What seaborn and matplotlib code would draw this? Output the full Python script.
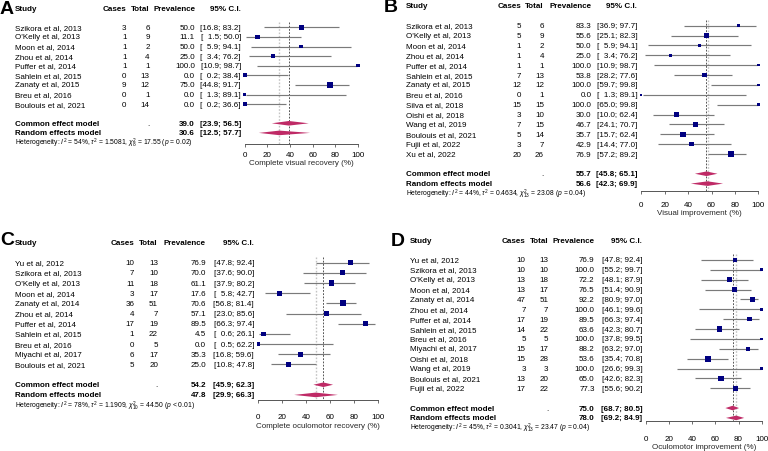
import matplotlib
matplotlib.use("Agg")
import matplotlib.pyplot as plt
import seaborn as sns
import pandas as pd

# ---------------- DATA ----------------
studies_A = ["Szikora et al, 2013", "O'Kelly et al, 2013", "Moon et al, 2014", "Zhou et al, 2014",
             "Puffer et al, 2014", "Sahlein et al, 2015", "Zanaty et al, 2015", "Breu et al, 2016",
             "Boulouis et al, 2021"]
cases_A = [3, 1, 1, 1, 1, 0, 9, 0, 0]
total_A = [6, 9, 2, 4, 1, 13, 12, 1, 14]
prev_A = [50.0, 11.1, 50.0, 25.0, 100.0, 0.0, 75.0, 0.0, 0.0]
lo_A = [16.8, 1.5, 5.9, 3.4, 10.9, 0.2, 44.8, 1.3, 0.2]
hi_A = [83.2, 50.0, 94.1, 76.2, 98.7, 38.4, 91.7, 89.1, 36.6]
weight_A = [16.8, 12.2, 8.3, 12.2, 5.6, 8.3, 21.4, 6.9, 8.3]
common_A = [39.0, 23.9, 56.5]
random_A = [30.6, 12.5, 57.7]
het_A = r"Heterogeneity: $I^2$ = 54%, $\tau^2$ = 1.5081, $\chi^2_8$ = 17.55 ($p$ = 0.02)"
xlabel_A = "Complete visual recovery (%)"

studies_B = ["Szikora et al, 2013", "O'Kelly et al, 2013", "Moon et al, 2014", "Zhou et al, 2014",
             "Puffer et al, 2014", "Sahlein et al, 2015", "Zanaty et al, 2015", "Breu et al, 2016",
             "Silva et al, 2018", "Oishi et al, 2018", "Wang et al, 2019", "Boulouis et al, 2021",
             "Fujii et al, 2022", "Xu et al, 2022"]
cases_B = [5, 5, 1, 1, 1, 7, 12, 0, 15, 3, 7, 5, 3, 20]
total_B = [6, 9, 2, 4, 1, 13, 12, 1, 15, 10, 15, 14, 7, 26]
prev_B = [83.3, 55.6, 50.0, 25.0, 100.0, 53.8, 100.0, 0.0, 100.0, 30.0, 46.7, 35.7, 42.9, 76.9]
lo_B = [36.9, 25.1, 5.9, 3.4, 10.9, 28.2, 59.7, 1.3, 65.0, 10.0, 24.1, 15.7, 14.4, 57.2]
hi_B = [97.7, 82.3, 94.1, 76.2, 98.7, 77.6, 99.8, 89.1, 99.8, 62.4, 70.7, 62.4, 77.0, 89.2]
weight_B = [5.0, 10.2, 3.4, 4.1, 2.4, 10.2, 2.4, 1.8, 2.4, 8.5, 11.5, 12.9, 8.5, 16.6]
common_B = [55.7, 45.8, 65.1]
random_B = [56.6, 42.3, 69.9]
het_B = r"Heterogeneity: $I^2$ = 44%, $\tau^2$ = 0.4634, $\chi^2_{13}$ = 23.08 ($p$ = 0.04)"
xlabel_B = "Visual improvement (%)"

studies_C = ["Yu et al, 2012", "Szikora et al, 2013", "O'Kelly et al, 2013", "Moon et al, 2014",
             "Zanaty et al, 2014", "Zhou et al, 2014", "Puffer et al, 2014", "Sahlein et al, 2015",
             "Breu et al, 2016", "Miyachi et al, 2017", "Boulouis et al, 2021"]
cases_C = [10, 7, 11, 3, 36, 4, 17, 1, 0, 6, 5]
total_C = [13, 10, 18, 17, 51, 7, 19, 22, 5, 17, 20]
prev_C = [76.9, 70.0, 61.1, 17.6, 70.6, 57.1, 89.5, 4.5, 0.0, 35.3, 25.0]
lo_C = [47.8, 37.6, 37.9, 5.8, 56.8, 23.0, 66.3, 0.6, 0.5, 16.8, 10.8]
hi_C = [92.4, 90.0, 80.2, 42.7, 81.4, 85.6, 97.4, 26.1, 62.2, 59.6, 47.8]
weight_C = [9.1, 9.0, 10.6, 10.1, 12.6, 8.2, 8.8, 6.8, 4.0, 10.4, 10.4]
common_C = [54.2, 45.9, 62.3]
random_C = [47.8, 29.9, 66.3]
het_C = r"Heterogeneity: $I^2$ = 78%, $\tau^2$ = 1.1909, $\chi^2_{10}$ = 44.50 ($p$ < 0.01)"
xlabel_C = "Complete oculomotor recovery (%)"

studies_D = ["Yu et al, 2012", "Szikora et al, 2013", "O'Kelly et al, 2013", "Moon et al, 2014",
             "Zanaty et al, 2014", "Zhou et al, 2014", "Puffer et al, 2014", "Sahlein et al, 2015",
             "Breu et al, 2016", "Miyachi et al, 2017", "Oishi et al, 2018", "Wang et al, 2019",
             "Boulouis et al, 2021", "Fujii et al, 2022"]
cases_D = [10, 10, 13, 13, 47, 7, 17, 14, 5, 15, 15, 3, 13, 17]
total_D = [13, 10, 18, 17, 51, 7, 19, 22, 5, 17, 28, 3, 20, 22]
prev_D = [76.9, 100.0, 72.2, 76.5, 92.2, 100.0, 89.5, 63.6, 100.0, 88.2, 53.6, 100.0, 65.0, 77.3]
lo_D = [47.8, 55.2, 48.1, 51.4, 80.9, 46.1, 66.3, 42.3, 37.8, 63.2, 35.4, 26.6, 42.6, 55.6]
hi_D = [92.4, 99.7, 87.9, 90.9, 97.0, 99.6, 97.4, 80.7, 99.5, 97.0, 70.8, 99.3, 82.3, 90.2]
weight_D = [7.5, 2.3, 9.4, 8.7, 9.5, 2.2, 6.4, 11.0, 2.2, 6.3, 12.2, 2.1, 10.5, 9.8]
common_D = [75.0, 68.7, 80.5]
random_D = [78.0, 69.2, 84.9]
het_D = r"Heterogeneity: $I^2$ = 45%, $\tau^2$ = 0.3041, $\chi^2_{13}$ = 23.47 ($p$ = 0.04)"
xlabel_D = "Oculomotor improvement (%)"

panel_letters = ["A", "B", "C", "D"]
x_ticks = [0, 20, 40, 60, 80, 100]

# ---------------- STYLE ----------------
sns.set_theme(style="white")
plt.rcParams["font.family"] = ["Liberation Sans", "DejaVu Sans"]
plt.rcParams["mathtext.fontset"] = "custom"
plt.rcParams["mathtext.rm"] = "Liberation Sans"
plt.rcParams["mathtext.it"] = "Liberation Sans:italic"
plt.rcParams["mathtext.bf"] = "Liberation Sans:bold"

W, H = 768, 452
FS = 5.75
SQ_COL = "#000080"
CI_COL = "#7a7a7a"
DIA_COL = "#BF2A66"
FIG_SP = "\u2007"

fig = plt.figure(figsize=(W / 100, H / 100), dpi=100)
fig.patch.set_facecolor("white")


def T(x, y, s, ha="left", bold=False, size=FS, **kw):
    fig.text(x / W, 1 - y / H, s, ha=ha, va="center", fontsize=size,
             fontweight="bold" if bold else "normal", color="black", **kw)


def ci_str(lo, hi):
    a = f"{lo:.1f}"
    b = f"{hi:.1f}"
    a = FIG_SP * (4 - len(a)) + a
    b = FIG_SP * (4 - len(b)) + b
    return f"[{a}; {b}]"


panels = [
    dict(studies=studies_A, cases=cases_A, total=total_A, prev=prev_A, lo=lo_A, hi=hi_A, w=weight_A,
         common=common_A, random=random_A, het=het_A, xlabel=xlabel_A,
         letter=(0, 9.5), sx=15, cr=126.5, tr=149.7, pr=195, cir=241,
         y0=28.3, dy=9.6, x0=244.7, x1=358, axy=144.7, tly=154.3, xly=163.3),
    dict(studies=studies_B, cases=cases_B, total=total_B, prev=prev_B, lo=lo_B, hi=hi_B, w=weight_B,
         common=common_B, random=random_B, het=het_B, xlabel=xlabel_B,
         letter=(384, 7.5), sx=405.7, cr=521.3, tr=544, pr=591.3, cir=637.3,
         y0=26.7, dy=9.87, x0=641.3, x1=758.3, axy=192.3, tly=204.3, xly=213.3),
    dict(studies=studies_C, cases=cases_C, total=total_C, prev=prev_C, lo=lo_C, hi=hi_C, w=weight_C,
         common=common_C, random=random_C, het=het_C, xlabel=xlabel_C,
         letter=(0, 241), sx=15, cr=134.3, tr=158, pr=206, cir=254,
         y0=263.7, dy=10.17, x0=258.3, x1=378.3, axy=401, tly=416.7, xly=426.7),
    dict(studies=studies_D, cases=cases_D, total=total_D, prev=prev_D, lo=lo_D, hi=hi_D, w=weight_D,
         common=common_D, random=random_D, het=het_D, xlabel=xlabel_D,
         letter=(391, 241.7), sx=410, cr=525.7, tr=548.3, pr=594.7, cir=642.3,
         y0=261, dy=9.87, x0=645.7, x1=761.7, axy=422.3, tly=438.3, xly=447.7),
]

for letter, P in zip(panel_letters, panels):
    n = len(P["studies"])
    ys = [P["y0"] + i * P["dy"] for i in range(n)]
    y_head = P["y0"] - 2 * P["dy"]
    y_com = P["y0"] + (n + 1) * P["dy"]
    y_ran = P["y0"] + (n + 2) * P["dy"]
    y_het = P["y0"] + (n + 3) * P["dy"]

    # panel letter
    T(P["letter"][0], P["letter"][1], letter, bold=True, size=14)
    # headers
    T(P["sx"], y_head, "Study", bold=True)
    T(P["cr"], y_head, "Cases", ha="right", bold=True)
    T(P["tr"], y_head, "Total", ha="right", bold=True)
    T(P["pr"], y_head, "Prevalence", ha="right", bold=True)
    T(P["cir"], y_head, "95% C.I.", ha="right", bold=True)

    # study rows
    for i in range(n):
        y = ys[i]
        T(P["sx"], y, P["studies"][i])
        T(P["cr"], y, str(P["cases"][i]), ha="right")
        T(P["tr"], y, str(P["total"][i]), ha="right")
        T(P["pr"], y, f"{P['prev'][i]:.1f}", ha="right")
        T(P["cir"], y, ci_str(P["lo"][i], P["hi"][i]), ha="right")

    # model rows
    for y, name, vals in [(y_com, "Common effect model", P["common"]),
                          (y_ran, "Random effects model", P["random"])]:
        T(P["sx"], y, name, bold=True)
        if name.startswith("Common"):
            T(P["tr"], y, ".", ha="right")
        T(P["pr"], y, f"{vals[0]:.1f}", ha="right", bold=True)
        T(P["cir"], y, ci_str(vals[1], vals[2]), ha="right", bold=True)
    T(P["sx"], y_het, P["het"], size=4.85)

    # forest axes: x in data 0..100, y in figure pixels (top-down)
    top = P["y0"] - 0.6 * P["dy"]
    ax = fig.add_axes([P["x0"] / W, 1 - P["axy"] / H, (P["x1"] - P["x0"]) / W, (P["axy"] - top) / H])
    ax.set_facecolor("none")
    ax.set_xlim(0, 100)
    ax.set_ylim(P["axy"], top)

    ax.vlines(P["random"][0], top, P["axy"], colors="#c4c4c4", linestyles=(0, (1.2, 1.2)), lw=1.0, zorder=1)
    ax.vlines(P["common"][0], top, P["axy"], colors="#4a4a4a", linestyles=(0, (2.0, 1.6)), lw=0.65, zorder=1)

    ax.hlines(ys, P["lo"], P["hi"], colors=CI_COL, lw=0.85, zorder=2, clip_on=False)

    df = pd.DataFrame({"prev": P["prev"], "y": ys, "w": P["w"]})
    sns.scatterplot(data=df, x="prev", y="y", size="w", sizes=(1, 18), size_norm=(0, max(P["w"])),
                    marker="s", color=SQ_COL, linewidth=0, legend=False, ax=ax, zorder=3, clip_on=False)

    h = 2.3
    for y, (est, lo, hi) in [(y_com, P["common"]), (y_ran, P["random"])]:
        ax.fill([lo, est, hi, est], [y, y - h, y, y + h], color=DIA_COL, lw=0, zorder=3, clip_on=False)

    for side in ["top", "left", "right"]:
        ax.spines[side].set_visible(False)
    ax.spines["bottom"].set_color("#555555")
    ax.spines["bottom"].set_linewidth(0.7)
    ax.set_yticks([])
    ax.set_xticks(x_ticks)
    pad_px = P["tly"] - P["axy"] - 3 - 2.8
    ax.tick_params(axis="x", bottom=True, direction="out", length=2.2, width=0.6, colors="#555555",
                   labelcolor="black", labelsize=FS, pad=pad_px / 1.389)
    ax.set_xlabel(P["xlabel"], fontsize=FS)
    ax.set_ylabel("")
    ax.xaxis.label.set_va("center")
    ax.xaxis.set_label_coords(0.5, -(P["xly"] - P["axy"]) / (P["axy"] - top))

fig.savefig("out.png", dpi=100, facecolor="white")
